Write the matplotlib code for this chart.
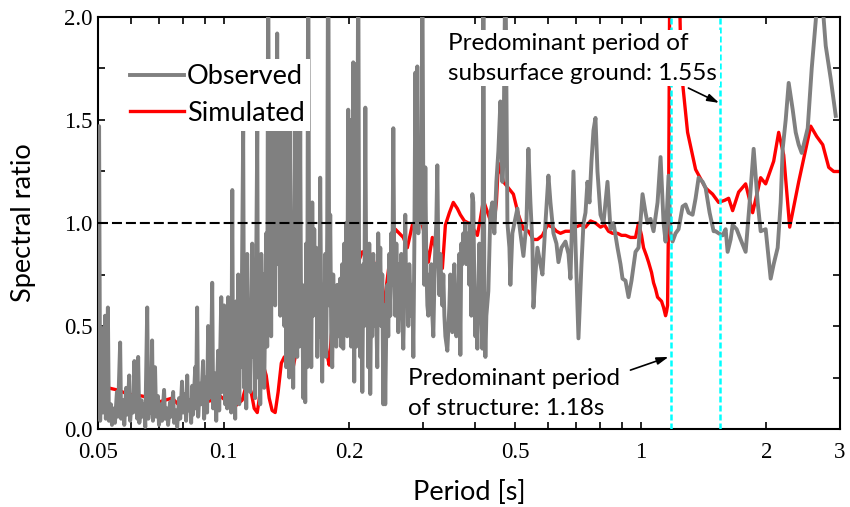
import matplotlib
matplotlib.use("Agg")
import matplotlib.pyplot as plt
from matplotlib.ticker import FixedLocator, FixedFormatter, NullFormatter, MultipleLocator

plt.rcParams['font.family'] = ['Lato', 'DejaVu Sans']

# observed spectral ratio (period [s], ratio)
obs_period_a = [
    0.0500, 0.0503, 0.0506, 0.0508, 0.0511, 0.0514, 0.0517, 0.0520, 0.0522, 0.0525,
    0.0528, 0.0531, 0.0537, 0.0540, 0.0546, 0.0549, 0.0555, 0.0558, 0.0565, 0.0568,
    0.0574, 0.0578, 0.0584, 0.0588, 0.0594, 0.0597, 0.0604, 0.0607, 0.0611, 0.0614,
    0.0617, 0.0621, 0.0624, 0.0628, 0.0635, 0.0638, 0.0645, 0.0649, 0.0656, 0.0660,
    0.0666, 0.0670, 0.0674, 0.0677, 0.0685, 0.0689, 0.0696, 0.0700, 0.0708, 0.0712,
    0.0720, 0.0724, 0.0732, 0.0736, 0.0744, 0.0748, 0.0757, 0.0761, 0.0769, 0.0774,
    0.0782, 0.0787, 0.0795, 0.0800, 0.0809, 0.0813, 0.0818, 0.0822, 0.0831, 0.0836,
    0.0841, 0.0845, 0.0855, 0.0859, 0.0864, 0.0869, 0.0878, 0.0883, 0.0893, 0.0898,
    0.0908, 0.0913, 0.0918, 0.0923, 0.0933, 0.0939, 0.0944, 0.0954, 0.0960, 0.0970,
    0.0976, 0.0987, 0.0992, 0.1003]
obs_ratio_a = [
    0.15, 1.47, 0.04, 0.22, 0.49, 0.08, 0.30, 0.55, 0.05, 0.15,
    0.59, 0.04, 0.12, 0.02, 0.10, 0.03, 0.18, 0.06, 0.42, 0.05,
    0.14, 0.02, 0.20, 0.07, 0.26, 0.04, 0.16, 0.08, 0.33, 0.10,
    0.24, 0.05, 0.35, 0.03, 0.14, 0.06, 0.12, 0.01, 0.59, 0.05,
    0.18, 0.08, 0.43, 0.04, 0.30, 0.06, 0.16, 0.02, 0.12, 0.04,
    0.19, 0.05, 0.10, 0.02, 0.13, 0.06, 0.18, 0.03, 0.09, 0.01,
    0.15, 0.05, 0.23, 0.08, 0.17, 0.04, 0.26, 0.09, 0.14, 0.03,
    0.21, 0.07, 0.30, 0.10, 0.59, 0.06, 0.22, 0.12, 0.33, 0.05,
    0.25, 0.08, 0.50, 0.15, 0.30, 0.71, 0.10, 0.27, 0.04, 0.38,
    0.09, 0.64, 0.18, 0.60]

obs_period_b = [
    0.1009, 0.1014, 0.1020, 0.1025, 0.1031, 0.1037, 0.1043, 0.1049, 0.1054, 0.1060,
    0.1066, 0.1072, 0.1078, 0.1084, 0.1090, 0.1096, 0.1102, 0.1114, 0.1120, 0.1127,
    0.1133, 0.1139, 0.1145, 0.1152, 0.1158, 0.1171, 0.1177, 0.1184, 0.1190, 0.1204,
    0.1210, 0.1217, 0.1224, 0.1231, 0.1238, 0.1244, 0.1251, 0.1265, 0.1272, 0.1279,
    0.1286, 0.1293, 0.1300, 0.1307, 0.1315, 0.1322, 0.1329, 0.1337, 0.1344, 0.1351,
    0.1359, 0.1367, 0.1375, 0.1382, 0.1390, 0.1398, 0.1405, 0.1413, 0.1421, 0.1429,
    0.1437, 0.1444, 0.1452, 0.1460, 0.1468, 0.1484, 0.1493, 0.1501, 0.1509, 0.1518,
    0.1526, 0.1534, 0.1543, 0.1552, 0.1560, 0.1569, 0.1577, 0.1586, 0.1595, 0.1604,
    0.1613, 0.1622, 0.1631, 0.1640, 0.1649, 0.1658, 0.1667, 0.1677, 0.1686, 0.1695,
    0.1704, 0.1713, 0.1723, 0.1732, 0.1742, 0.1752, 0.1761, 0.1771, 0.1781, 0.1791,
    0.1801, 0.1811, 0.1821, 0.1831, 0.1841, 0.1851, 0.1862, 0.1872, 0.1882, 0.1893,
    0.1903, 0.1914, 0.1924, 0.1935, 0.1946, 0.1956, 0.1967, 0.1978, 0.1989, 0.2000]
obs_ratio_b = [
    0.12, 0.45, 0.10, 0.64, 0.20, 0.55, 0.08, 1.16, 0.15, 0.40,
    0.05, 0.62, 0.25, 0.75, 0.12, 0.55, 0.30, 1.45, 0.20, 0.70,
    0.10, 0.85, 0.30, 0.60, 0.18, 0.90, 0.35, 0.65, 0.15, 1.45,
    0.25, 0.80, 0.12, 0.85, 0.30, 0.75, 0.20, 0.95, 0.40, 2.40,
    0.55, 1.60, 0.45, 1.50, 0.70, 1.55, 0.60, 1.30, 1.92, 0.80,
    1.60, 0.55, 1.45, 0.75, 1.65, 0.50, 1.22, 0.30, 1.50, 0.65,
    0.25, 1.45, 0.55, 0.95, 0.20, 1.45, 0.60, 0.35, 1.45, 0.40,
    1.45, 0.50, 0.70, 0.15, 0.60, 0.13, 0.90, 0.30, 2.50, 0.45,
    0.75, 0.30, 1.10, 0.55, 0.97, 0.60, 0.88, 0.35, 0.80, 0.45,
    1.22, 0.60, 0.23, 0.70, 0.40, 0.85, 0.35, 0.95, 2.60, 0.60,
    1.04, 0.45, 0.30, 0.75, 0.50, 0.66, 0.40, 0.70, 0.45, 0.60,
    0.73, 0.40, 0.80, 0.39, 0.90, 0.50, 1.00, 0.45, 1.55, 0.55]

obs_period_c = [
    0.2011, 0.2022, 0.2033, 0.2045, 0.2056, 0.2067, 0.2079, 0.2090, 0.2102, 0.2113,
    0.2126, 0.2138, 0.2150, 0.2162, 0.2173, 0.2186, 0.2198, 0.2210, 0.2222, 0.2234,
    0.2246, 0.2258, 0.2271, 0.2284, 0.2296, 0.2309, 0.2322, 0.2335, 0.2347, 0.2360,
    0.2374, 0.2387, 0.2400, 0.2414, 0.2427, 0.2440, 0.2454, 0.2468, 0.2481, 0.2495,
    0.2509, 0.2523, 0.2537, 0.2551, 0.2565, 0.2579, 0.2594, 0.2608, 0.2622, 0.2637,
    0.2651, 0.2666, 0.2680, 0.2695, 0.2710, 0.2725, 0.2740, 0.2756, 0.2771, 0.2786,
    0.2802, 0.2818, 0.2833, 0.2849, 0.2865, 0.2881, 0.2896, 0.2912, 0.2929, 0.2945,
    0.2961, 0.2977, 0.2994, 0.3011, 0.3027, 0.3044, 0.3061, 0.3078, 0.3095, 0.3112,
    0.3129, 0.3146, 0.3164, 0.3181, 0.3199, 0.3217, 0.3234, 0.3252, 0.3270, 0.3289,
    0.3307, 0.3325, 0.3344, 0.3362, 0.3381, 0.3400, 0.3437, 0.3476, 0.3494, 0.3513,
    0.3533, 0.3552, 0.3572, 0.3592, 0.3612, 0.3652, 0.3672, 0.3693, 0.3713, 0.3734,
    0.3755, 0.3776, 0.3796, 0.3817, 0.3839, 0.3860, 0.3881, 0.3902, 0.3924, 0.3945]
obs_ratio_c = [
    1.50, 0.40, 0.50, 1.78, 0.23, 1.77, 0.40, 0.90, 2.40, 0.60,
    0.35, 0.70, 0.18, 0.80, 0.50, 1.56, 0.60, 0.80, 0.30, 0.90,
    0.17, 0.70, 0.45, 0.85, 0.50, 0.80, 0.55, 0.30, 0.95, 0.60,
    0.88, 0.50, 0.75, 0.12, 0.60, 0.12, 0.50, 0.70, 0.45, 0.85,
    0.55, 0.95, 0.70, 1.46, 0.75, 0.55, 0.90, 0.65, 0.47, 0.80,
    0.60, 0.85, 0.55, 0.39, 0.65, 1.04, 0.60, 0.75, 0.50, 0.80,
    0.65, 0.55, 0.70, 0.35, 0.90, 1.73, 1.20, 1.76, 0.95, 1.20,
    1.40, 1.00, 2.30, 1.10, 0.70, 1.27, 0.80, 0.60, 0.55, 0.75,
    0.60, 0.80, 0.55, 0.45, 0.70, 0.90, 1.00, 1.28, 0.85, 0.65,
    0.85, 0.70, 0.60, 0.75, 0.55, 0.45, 0.38, 0.60, 0.75, 0.60,
    0.47, 0.65, 0.80, 0.55, 0.45, 0.65, 0.85, 0.36, 0.90, 0.80,
    0.95, 0.85, 1.00, 0.80, 0.90, 0.95, 0.70, 1.00, 0.55, 1.14]

obs_period_d = [
    0.3967, 0.3989, 0.4011, 0.4033, 0.4056, 0.4078, 0.4101, 0.4124, 0.4147, 0.4170,
    0.4193, 0.4216, 0.4240, 0.4263, 0.4310, 0.4358, 0.4406, 0.4455, 0.4505, 0.4555,
    0.4606, 0.4657, 0.4683, 0.4735, 0.4788, 0.4841, 0.4867, 0.4921, 0.4976, 0.5059,
    0.5144, 0.5230, 0.5317, 0.5376, 0.5436, 0.5496, 0.5527, 0.5588, 0.5650, 0.5745,
    0.5809, 0.5906, 0.6004, 0.6071, 0.6172, 0.6276, 0.6345, 0.6452, 0.6596, 0.6706,
    0.6780, 0.6893, 0.6970, 0.7086, 0.7205, 0.7285, 0.7366, 0.7447, 0.7530, 0.7614,
    0.7698, 0.7784, 0.7870, 0.8002, 0.8136, 0.8226, 0.8317, 0.8457, 0.8598, 0.8790,
    0.8937, 0.9036, 0.9187, 0.9341, 0.9496, 0.9708, 0.9870, 1.0092, 1.0260, 1.0374,
    1.0548, 1.0724, 1.0964, 1.1147, 1.1333, 1.1459, 1.1650, 1.1780, 1.1911, 1.2110,
    1.2312, 1.2587, 1.2798, 1.3012, 1.3302, 1.3525, 1.3751, 1.4058, 1.4293, 1.4612,
    1.4939, 1.5105, 1.5357, 1.5700, 1.5962, 1.6139, 1.6409, 1.6591, 1.6962, 1.7341,
    1.7826, 1.8225, 1.8632, 1.9048, 1.9367, 1.9909, 2.0467, 2.0809, 2.1273, 2.1629,
    2.1869, 2.2235, 2.2606, 2.3112, 2.3498, 2.3890, 2.4290, 2.4696, 2.5108, 2.5669,
    2.6242, 2.6681, 2.7277, 2.7733, 2.8510, 2.9308]
obs_ratio_d = [
    1.10, 0.70, 0.45, 0.60, 0.39, 0.70, 0.90, 0.75, 0.55, 0.39,
    2.40, 0.60, 0.35, 0.55, 0.67, 1.05, 1.10, 0.95, 1.20, 1.35,
    1.59, 1.20, 1.30, 2.30, 1.00, 0.88, 0.70, 0.95, 1.00, 1.07,
    0.95, 0.84, 1.00, 1.36, 1.10, 0.90, 0.59, 0.75, 0.88, 0.80,
    0.75, 1.00, 1.23, 1.10, 0.95, 0.90, 0.81, 0.88, 0.91, 0.85,
    0.73, 1.25, 0.90, 0.44, 0.80, 1.00, 1.05, 1.20, 1.10, 1.30,
    1.45, 1.51, 1.25, 1.04, 1.00, 1.10, 1.20, 0.97, 1.00, 0.88,
    0.80, 0.73, 0.72, 0.64, 0.72, 0.86, 0.88, 1.14, 1.05, 1.00,
    1.02, 0.96, 1.10, 1.32, 1.00, 0.91, 1.23, 0.95, 0.91, 0.95,
    0.97, 1.08, 1.09, 1.05, 1.04, 1.12, 1.22, 1.20, 1.17, 1.05,
    0.96, 0.96, 0.95, 0.94, 0.97, 0.86, 0.92, 0.99, 0.97, 0.92,
    0.86, 1.10, 1.36, 1.10, 0.96, 0.97, 0.73, 0.80, 0.88, 1.10,
    1.36, 1.50, 1.68, 1.55, 1.44, 1.38, 1.34, 1.40, 1.46, 1.75,
    1.98, 2.20, 2.05, 1.86, 1.70, 1.52]

# simulated spectral ratio
sim_period = [
    0.0500, 0.0511, 0.0528, 0.0555, 0.0590, 0.0638, 0.0666, 0.0696, 0.0724, 0.0753,
    0.0778, 0.0813, 0.0855, 0.0903, 0.0939, 0.0981, 0.1009, 0.1031, 0.1054, 0.1078,
    0.1108, 0.1139, 0.1164, 0.1184, 0.1204, 0.1224, 0.1244, 0.1265, 0.1286, 0.1307,
    0.1329, 0.1351, 0.1375, 0.1398, 0.1421, 0.1444, 0.1468, 0.1501, 0.1526, 0.1552,
    0.1586, 0.1622, 0.1658, 0.1704, 0.1742, 0.1771, 0.1791, 0.1811, 0.1841, 0.1872,
    0.1903, 0.1946, 0.1989, 0.2033, 0.2067, 0.2102, 0.2150, 0.2222, 0.2271, 0.2309,
    0.2360, 0.2400, 0.2440, 0.2468, 0.2523, 0.2579, 0.2637, 0.2695, 0.2756, 0.2833,
    0.2896, 0.2961, 0.3011, 0.3044, 0.3095, 0.3164, 0.3217, 0.3252, 0.3307, 0.3344,
    0.3400, 0.3476, 0.3552, 0.3632, 0.3693, 0.3776, 0.3860, 0.3945, 0.4056, 0.4124,
    0.4193, 0.4310, 0.4431, 0.4505, 0.4555, 0.4632, 0.4683, 0.4814, 0.4948, 0.5087,
    0.5230, 0.5376, 0.5527, 0.5650, 0.5809, 0.5971, 0.6138, 0.6276, 0.6416, 0.6596,
    0.6780, 0.6970, 0.7165, 0.7366, 0.7572, 0.7784, 0.8002, 0.8181, 0.8364, 0.8551,
    0.8790, 0.8987, 0.9187, 0.9444, 0.9708, 0.9870, 1.0036, 1.0148, 1.0317, 1.0432,
    1.0606, 1.0724, 1.0843, 1.0964, 1.1085, 1.1208, 1.1333, 1.1459, 1.1522, 1.1586,
    1.1650, 1.1780, 1.2177, 1.2449, 1.2587, 1.2940, 1.3525, 1.4293, 1.4856, 1.5357,
    1.5874, 1.6229, 1.6591, 1.7150, 1.7826, 1.8529, 1.9367, 1.9909, 2.0809, 2.1391,
    2.1990, 2.2731, 2.3890, 2.5528, 2.6388, 2.7277, 2.8196, 2.8986, 3.0000]
sim_ratio = [
    0.21, 0.21, 0.20, 0.19, 0.17, 0.16, 0.15, 0.13, 0.14, 0.15,
    0.12, 0.12, 0.13, 0.13, 0.14, 0.16, 0.14, 0.11, 0.10, 0.12,
    0.14, 0.23, 0.18, 0.10, 0.08, 0.18, 0.31, 0.26, 0.15, 0.09,
    0.08, 0.18, 0.32, 0.35, 0.34, 0.29, 0.30, 0.40, 0.48, 0.50,
    0.42, 0.55, 0.59, 0.59, 0.48, 0.36, 0.31, 0.45, 0.59, 0.66,
    0.62, 0.62, 0.59, 0.50, 0.65, 0.81, 0.86, 0.86, 0.84, 0.78,
    0.68, 0.55, 0.65, 0.73, 0.88, 0.97, 0.95, 0.93, 0.88, 0.99,
    1.00, 1.02, 0.97, 0.91, 0.81, 0.93, 0.88, 0.81, 0.79, 0.78,
    0.99, 1.05, 1.10, 1.07, 1.04, 1.01, 1.00, 0.98, 0.94, 1.02,
    1.11, 1.04, 0.97, 1.10, 1.29, 1.24, 1.20, 1.17, 1.14, 1.04,
    0.97, 0.96, 0.92, 0.92, 0.94, 0.99, 0.98, 0.96, 0.95, 0.96,
    0.96, 0.98, 0.99, 0.98, 1.01, 1.00, 0.98, 0.99, 0.96, 0.95,
    0.95, 0.94, 0.94, 0.93, 0.93, 1.00, 0.94, 0.88, 0.84, 0.81,
    0.76, 0.71, 0.68, 0.64, 0.63, 0.62, 0.59, 0.55, 0.57, 0.60,
    1.04, 3.00, 2.90, 1.85, 1.68, 1.44, 1.26, 1.17, 1.14, 1.10,
    1.11, 1.12, 1.06, 1.15, 1.19, 1.05, 1.22, 1.19, 1.30, 1.44,
    1.33, 0.98, 1.20, 1.47, 1.42, 1.38, 1.27, 1.25, 1.25]

t_structure = 1.18
t_ground = 1.55

xticks_major = [0.05, 0.1, 0.2, 0.5, 1, 2, 3]
xtick_labels = ['0.05', '0.1', '0.2', '0.5', '1', '2', '3']
xticks_minor = [0.06, 0.07, 0.08, 0.09, 0.3, 0.4, 0.6, 0.7, 0.8, 0.9]

obs_period = obs_period_a + obs_period_b + obs_period_c + obs_period_d
obs_ratio = obs_ratio_a + obs_ratio_b + obs_ratio_c + obs_ratio_d

fig = plt.figure(figsize=(8.5, 5.07), dpi=100)
ax = fig.add_axes([0.1153, 0.1538, 0.8729, 0.8127])

l_sim, = ax.plot(sim_period, sim_ratio, color='#ff0000', lw=2.4, zorder=2)
l_obs, = ax.plot(obs_period, obs_ratio, color='#808080', lw=2.8, zorder=3)
ax.axhline(1.0, color='k', lw=1.5, ls=(0, (4.8, 1.9)), zorder=4)
for t in (t_structure, t_ground):
    ax.axvline(t, color='#00ffff', lw=1.8, ls=(0, (2.4, 1.2)), zorder=5)

ax.set_xscale('log')
ax.set_xlim(0.05, 3)
ax.set_ylim(0, 2)

ax.xaxis.set_major_locator(FixedLocator(xticks_major))
ax.xaxis.set_major_formatter(FixedFormatter(xtick_labels))
ax.xaxis.set_minor_locator(FixedLocator(xticks_minor))
ax.xaxis.set_minor_formatter(NullFormatter())
ax.yaxis.set_major_locator(MultipleLocator(0.5))
ax.yaxis.set_minor_locator(MultipleLocator(0.25))
ax.yaxis.set_major_formatter(plt.FormatStrFormatter('%.1f'))

ax.tick_params(which='both', direction='in', top=True, right=True,
               length=5, width=1.2)
ax.tick_params(axis='x', which='major', pad=9)
ax.tick_params(axis='y', which='major', pad=4)
for lab in ax.get_xticklabels() + ax.get_yticklabels():
    lab.set_fontfamily('Liberation Serif')
    lab.set_fontsize(16.5)
for sp in ax.spines.values():
    sp.set_linewidth(1.5)

ax.set_xlabel('Period [s]', fontsize=19.5)
ax.set_ylabel('Spectral ratio', fontsize=19.5)
ax.xaxis.set_label_coords(0.5, -0.124)
ax.yaxis.set_label_coords(-0.0836, 0.5)

leg = ax.legend([l_obs, l_sim], ['Observed', 'Simulated'], loc='upper left',
                bbox_to_anchor=(0.036, 0.898), fontsize=19.5, frameon=True,
                fancybox=False, edgecolor='none', facecolor='white', framealpha=1,
                borderpad=0.2, borderaxespad=0, handlelength=2.0,
                handletextpad=0.1, labelspacing=0.42)
leg.set_zorder(8)

box = dict(facecolor='white', edgecolor='none', pad=1.5)
ax.text(0.3458, 1.694, 'Predominant period of\nsubsurface ground: 1.55s',
        fontsize=17.5, ha='left', va='baseline', linespacing=1.55, bbox=box, zorder=9)
ax.text(0.2771, 0.068, 'Predominant period\nof structure: 1.18s',
        fontsize=17.5, ha='left', va='baseline', linespacing=1.55, bbox=box, zorder=9)

arrow = dict(arrowstyle='-|>,head_length=0.7,head_width=0.22', color='k', lw=1.2,
             shrinkA=0, shrinkB=0)
ax.annotate('', xy=(1.54, 1.583), xytext=(1.30, 1.655), arrowprops=arrow, zorder=10)
ax.annotate('', xy=(1.165, 0.35), xytext=(0.944, 0.286), arrowprops=arrow, zorder=10)

fig.savefig('out.png', dpi=100, facecolor='white')
